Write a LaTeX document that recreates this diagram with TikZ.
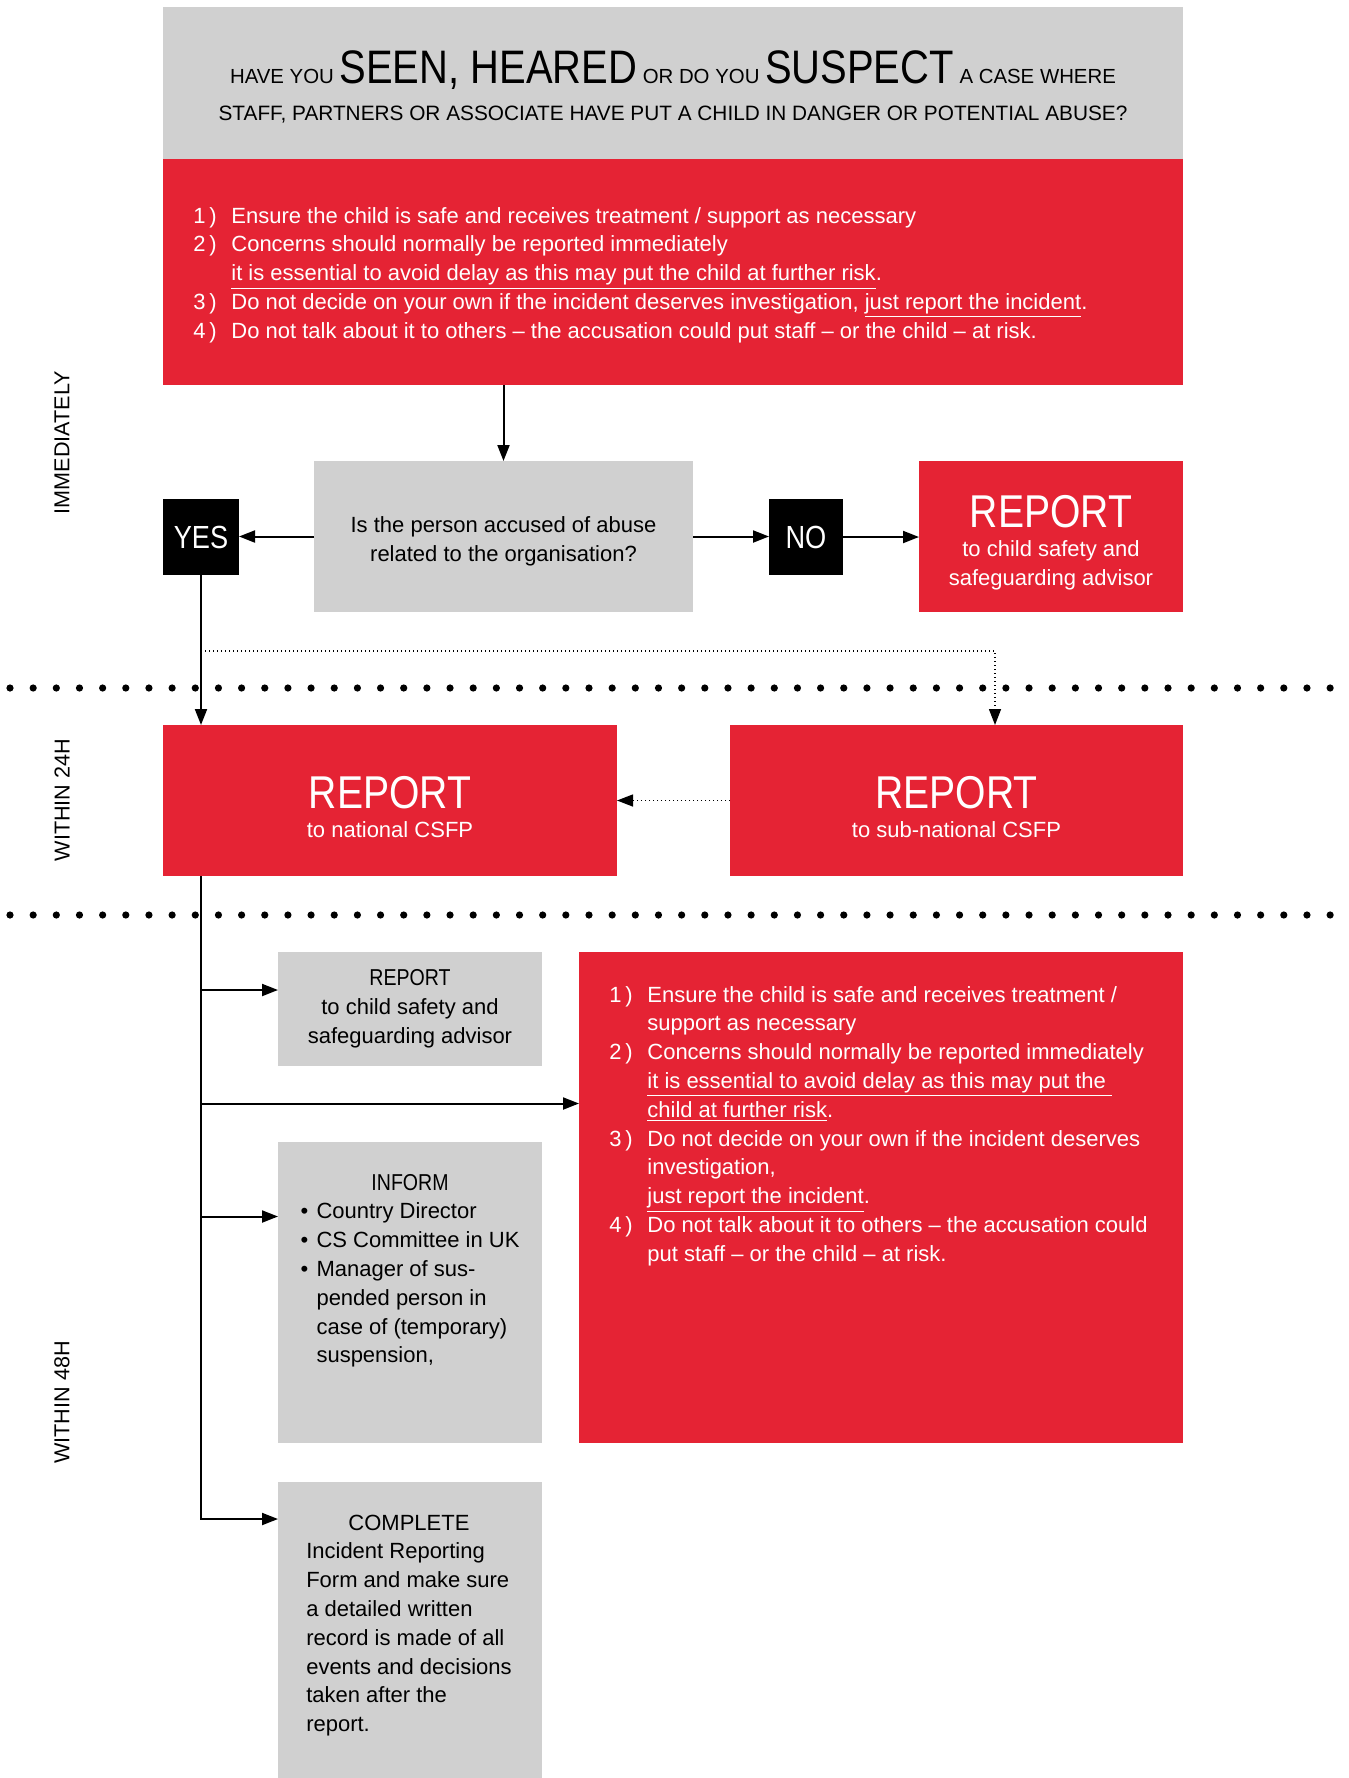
\documentclass[tikz,border=0pt]{standalone}
\usepackage{fontspec}
\setmainfont{Liberation Sans}
\newfontfamily\narrowfont{Liberation Sans}[FakeStretch=0.85]
\usepackage{xcolor}
\usepackage{tikz}
\usetikzlibrary{arrows.meta,positioning}

\definecolor{alertred}{RGB}{229,35,52}
\definecolor{panelgray}{RGB}{208,208,208}
\newcommand{\hdword}[1]{{\narrowfont\fontsize{23.5}{24}\selectfont #1}}
\newcommand{\repword}[1]{{\narrowfont\fontsize{23}{24}\selectfont\rule{0pt}{22.5pt}#1}}
\newcommand{\boxtitle}[1]{{\narrowfont\fontsize{11.5}{14.4}\selectfont #1}}

\begin{document}
\begin{tikzpicture}[
  x=0.5pt, y=-0.5pt,
  panel/.style   = {rectangle, fill=panelgray, inner sep=0pt, outer sep=0pt,
                    align=center, font=\fontsize{11}{14.4}\selectfont},
  alert/.style   = {panel, fill=alertred, text=white},
  tag/.style     = {rectangle, fill=black, text=white, inner sep=0pt, outer sep=0pt,
                    minimum width=38pt, minimum height=38pt,
                    font=\narrowfont\fontsize{16}{18}\selectfont},
  body/.style    = {inner sep=0pt, font=\fontsize{11}{14.4}\selectfont},
  phase/.style   = {rotate=90, inner sep=0pt, font=\fontsize{10.8}{12}\selectfont},
  arr/.style     = {-{Triangle[length=8pt,width=6pt]}, line width=1pt, black},
  dotarr/.style  = {arr, line width=0.7pt, dash pattern=on 0.7pt off 1.3pt},
  sepline/.style = {line width=3.6pt, line cap=round, dash pattern=on 0pt off 11.58pt}
]
\useasboundingbox (0,0) rectangle (1349,1778);

%% Phase labels and separators
\node[phase] (immediately) at (62,442.5)  {IMMEDIATELY};
\node[phase] (day1)        at (62,800)    {WITHIN 24H};
\node[phase] (day2)        at (62,1402.5) {WITHIN 48H};
\draw[sepline] (10,688) -- (1347,688);
\draw[sepline] (10,915) -- (1347,915);

%% Question block
\node[panel, minimum width=510pt, minimum height=76pt, font=\fontsize{10.2}{18.5}\selectfont]
  (header) at (673,83)
  {\rule{0pt}{20.5pt}HAVE YOU \hdword{SEEN, HEARED} OR DO YOU \hdword{SUSPECT} A CASE WHERE\\
   {\fontsize{10.4}{18.5}\selectfont STAFF, PARTNERS OR ASSOCIATE HAVE PUT A CHILD IN DANGER OR POTENTIAL ABUSE?}};
\node[alert, minimum width=510pt, minimum height=113pt] (steps) at (673,272) {};
\node[body, text=white, anchor=base west] (stepstext) at (193,223) {%
  \begin{tabular}[t]{@{}p{19pt}@{}l@{}}
  1\,) & Ensure the child is safe and receives treatment / support as necessary\\
  2\,) & Concerns should normally be reported immediately\\
       & \underline{it is essential to avoid delay as this may put the child at further risk}.\\
  3\,) & Do not decide on your own if the incident deserves investigation, \underline{just report the incident}.\\
  4\,) & Do not talk about it to others – the accusation could put staff – or the child – at risk.
  \end{tabular}};

%% Decision
\node[panel, minimum width=189.5pt, minimum height=75.5pt] (question) at (503.5,536.5)
  {\rule{0pt}{12.5pt}Is the person accused of abuse\\related to the organisation?};
\node[tag] (yes) at (201,537) {YES};
\node[tag, minimum width=37pt] (no) at (806,537) {NO};
\node[alert, minimum width=132pt, minimum height=75.5pt] (advisor) at (1051,536.5)
  {\repword{REPORT}\\to child safety and\\safeguarding advisor};

%% Within 24h
\node[alert, minimum width=227pt, minimum height=75.5pt] (national) at (390,800.5)
  {\repword{REPORT}\\to national CSFP};
\node[alert, minimum width=226.5pt, minimum height=75.5pt] (subnat) at (956.5,800.5)
  {\repword{REPORT}\\to sub-national CSFP};

%% Within 48h
\node[panel, minimum width=132pt, minimum height=57pt] (advisorlow) at (410,1009)
  {\boxtitle{REPORT}\\to child safety and\\safeguarding advisor};
\node[alert, minimum width=302pt, minimum height=245.5pt] (steps2) at (881,1197.5) {};
\node[body, text=white, anchor=base west] (steps2text) at (609,1002) {%
  \begin{tabular}[t]{@{}p{19pt}@{}l@{}}
  1\,) & Ensure the child is safe and receives treatment /\\
       & support as necessary\\
  2\,) & Concerns should normally be reported immediately\\
       & \underline{it is essential to avoid delay as this may put the\ }\\
       & \underline{child at further risk}.\\
  3\,) & Do not decide on your own if the incident deserves\\
       & investigation,\\
       & \underline{just report the incident}.\\
  4\,) & Do not talk about it to others – the accusation could\\
       & put staff – or the child – at risk.
  \end{tabular}};
\node[panel, minimum width=132pt, minimum height=150.5pt] (inform) at (410,1292.5) {};
\node[body, anchor=base] (informtext) at (410,1190) {%
  \begin{tabular}[t]{@{}p{8pt}@{}l@{}}
  \multicolumn{2}{c}{\boxtitle{INFORM}}\\
  • & Country Director\\
  • & CS Committee in UK\\
  • & Manager of sus-\\
    & pended person in\\
    & case of (temporary)\\
    & suspension,
  \end{tabular}};
\node[panel, minimum width=132pt, minimum height=148pt] (complete) at (410,1630) {};
\node[body, anchor=base] (completetext) at (409,1530) {%
  \begin{tabular}[t]{@{}l@{}}
  \multicolumn{1}{@{}c@{}}{COMPLETE}\\
  Incident Reporting\\
  Form and make sure\\
  a detailed written\\
  record is made of all\\
  events and decisions\\
  taken after the\\
  report.
  \end{tabular}};

%% Branch points on the trunk
\coordinate (fork) at (201,651);
\coordinate (b1)   at (201,990);
\coordinate (b2)   at (201,1103.5);
\coordinate (b3)   at (201,1216.5);
\coordinate (b4)   at (201,1519);

%% Immediately
\draw[arr] (question.north |- steps.south) -- (question.north);
\draw[arr] (question.west) -- (question.west -| yes.east);
\draw[arr] (question.east) -- (question.east -| no.west);
\draw[arr] (no.east) -- (no.east -| advisor.west);

%% Yes -> reports
\draw[arr] (yes.south) -- (yes.south |- national.north);
\draw[dotarr] (fork) -| ([xshift=19.25pt]subnat.north);
\draw[dotarr] (subnat.west) -- (national.east);

%% Trunk -> 48h actions
\draw[arr] (yes.south |- national.south) |- (b4 -| complete.west);
\draw[arr] (b1) -- (b1 -| advisorlow.west);
\draw[arr] (b2) -- (b2 -| steps2.west);
\draw[arr] (b3) -- (b3 -| inform.west);
\end{tikzpicture}
\end{document}
